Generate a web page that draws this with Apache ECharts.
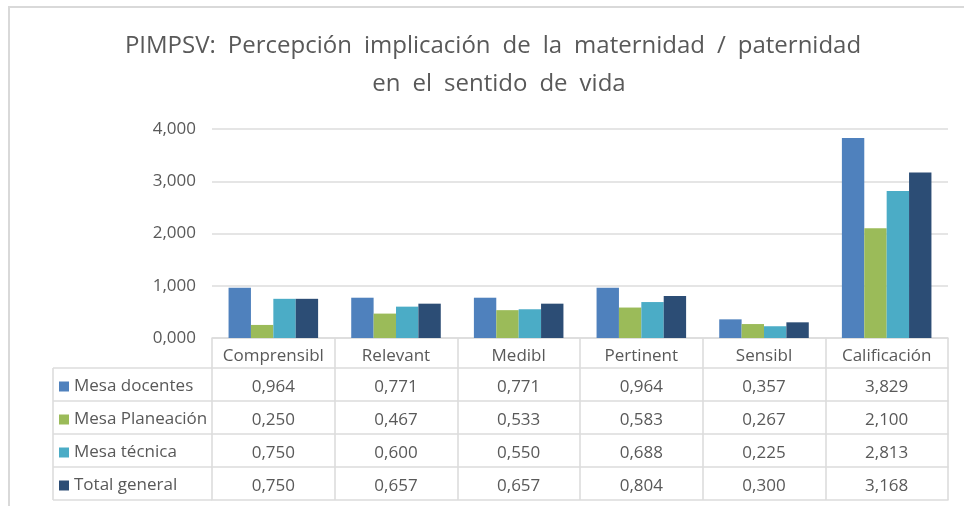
<!DOCTYPE html>
<html>
<head>
<meta charset="utf-8">
<script src="https://cdn.jsdelivr.net/npm/echarts@6/dist/echarts.min.js"></script>
<style>html,body{margin:0;padding:0;background:#fff}#c{width:964px;height:506px}</style>
</head>
<body>
<div id="c"></div>
<script>
const titleText = 'PIMPSV:\u2002Percepción\u2002implicación\u2002de\u2002la\u2002maternidad\u2002/\u2002paternidad\u2002\nen\u2002el\u2002sentido\u2002de\u2002vida';
const categories = ['Comprensibl', 'Relevant', 'Medibl', 'Pertinent', 'Sensibl', 'Calificación'];
const seriesNames = ['Mesa docentes', 'Mesa Planeación', 'Mesa técnica', 'Total general'];
const mesaDocentes = [0.964, 0.771, 0.771, 0.964, 0.357, 3.829];
const mesaPlaneacion = [0.250, 0.467, 0.533, 0.583, 0.267, 2.100];
const mesaTecnica = [0.750, 0.600, 0.550, 0.688, 0.225, 2.813];
const totalGeneral = [0.750, 0.657, 0.657, 0.804, 0.300, 3.168];
const yMin = 0, yMax = 4, yInterval = 1;

const seriesData = [mesaDocentes, mesaPlaneacion, mesaTecnica, totalGeneral];
const colors = ['#4f81bd', '#9bbb59', '#4bacc6', '#2c4d75'];
const fmt = v => Number(v).toFixed(3).replace('.', ',');

const W = 964, H = 506;
const gridL = 212, gridR = 948, gridT = 129, gridB = 338;
const headerH = 30, rowH = 33, tableL = 53;
const lineC = '#dcdcdc', textC = '#595959', lw = 1.6;
const font = "'Open Sans', sans-serif";
const fs = 17;

const xAxes = [{
  type: 'category', data: categories, position: 'bottom', gridIndex: 0, offset: 0,
  axisLine: {show: true, lineStyle: {color: lineC, width: lw}},
  axisTick: {show: true, interval: 0, alignWithLabel: false, length: headerH, lineStyle: {color: lineC, width: lw}},
  axisLabel: {interval: 0, color: textC, fontFamily: font, fontSize: fs, margin: 10}
}];
seriesData.forEach((arr, k) => {
  xAxes.push({
    type: 'category', data: categories, position: 'bottom', gridIndex: 0, offset: headerH + rowH * k,
    axisLine: {show: true, lineStyle: {color: lineC, width: lw}},
    axisTick: {show: true, interval: 0, alignWithLabel: false, length: rowH, lineStyle: {color: lineC, width: lw}},
    axisLabel: {interval: 0, color: textC, fontFamily: font, fontSize: fs, margin: 11, formatter: (v, i) => fmt(arr[i])}
  });
});
xAxes.push({
  type: 'category', data: categories, position: 'bottom', gridIndex: 0, offset: headerH + rowH * seriesData.length,
  axisLine: {show: true, lineStyle: {color: lineC, width: lw}},
  axisTick: {show: false}, axisLabel: {show: false}
});

const graphics = [{
  type: 'rect', shape: {x: 9, y: 7, width: W + 50, height: H + 50},
  style: {fill: 'none', stroke: '#d9d9d9', lineWidth: 2}, silent: true, z: -1
}];
for (let i = 0; i <= seriesData.length; i++) {
  const y = gridB + headerH + rowH * i;
  graphics.push({type: 'line', shape: {x1: tableL, y1: y, x2: gridL, y2: y}, style: {stroke: lineC, lineWidth: lw}, silent: true});
}
graphics.push({type: 'line', shape: {x1: tableL, y1: gridB + headerH, x2: tableL, y2: gridB + headerH + rowH * seriesData.length}, style: {stroke: lineC, lineWidth: lw}, silent: true});

const chart = echarts.init(document.getElementById('c'), null, {renderer: 'canvas'});
chart.setOption({
  animation: false,
  color: colors,
  title: {
    text: titleText, left: 494, top: 22, textAlign: 'center',
    textStyle: {fontFamily: font, fontSize: 24, fontWeight: 'normal', color: textC, lineHeight: 38}
  },
  legend: {
    data: seriesNames, orient: 'vertical', left: tableL + 6, top: gridB + headerH + 2, padding: 0,
    itemGap: 0, itemWidth: 10, itemHeight: 10, icon: 'rect', selectedMode: false,
    textStyle: {color: textC, fontFamily: font, fontSize: fs, lineHeight: rowH, padding: [0, 0, 0, 0]}
  },
  grid: {left: gridL, right: W - gridR, top: gridT, bottom: H - gridB, containLabel: false},
  xAxis: xAxes,
  yAxis: {
    type: 'value', min: yMin, max: yMax, interval: yInterval,
    axisLine: {show: false}, axisTick: {show: false},
    splitLine: {lineStyle: {color: lineC, width: lw}},
    axisLabel: {color: textC, fontFamily: font, fontSize: fs, margin: 16, formatter: v => fmt(v)}
  },
  series: seriesData.map((arr, k) => ({
    name: seriesNames[k], type: 'bar', xAxisIndex: 0, data: arr,
    barGap: '0%', barCategoryGap: '27%'
  })),
  graphic: graphics
});
</script>
</body>
</html>
